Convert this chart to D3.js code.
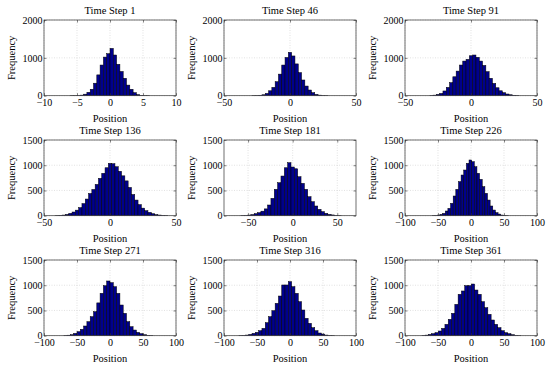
<!DOCTYPE html>
<html>
<head>
<meta charset="utf-8">
<script src="https://cdn.jsdelivr.net/npm/d3@7"></script>
<style>
    body { margin: 0; background: #fff; }
    svg  { display: block; font-family: "Liberation Serif", "Times New Roman", serif; }
</style>
</head>
<body>
<svg id="chart" width="550" height="368"></svg>
<script>
/* ── Data ─────────────────────────────────────────── */
const titles = ["Time Step 1", "Time Step 46", "Time Step 91",
                "Time Step 136", "Time Step 181", "Time Step 226",
                "Time Step 271", "Time Step 316", "Time Step 361"];

const xDomains = [[-10, 10], [-50, 50], [-50, 50],
                  [-50, 50], [-77, 71], [-100, 100],
                  [-100, 100], [-100, 100], [-100, 100]];

const xTicks = [[-10, -5, 0, 5, 10], [-50, 0, 50], [-50, 0, 50],
                [-50, 0, 50], [-50, 0, 50], [-100, -50, 0, 50, 100],
                [-100, -50, 0, 50, 100], [-100, -50, 0, 50, 100], [-100, -50, 0, 50, 100]];

const yMax   = [2000, 2000, 2000, 1500, 1500, 1500, 1500, 1500, 1500];
const yTicks = [[0, 1000, 2000], [0, 1000, 2000], [0, 1000, 2000],
                [0, 500, 1000, 1500], [0, 500, 1000, 1500], [0, 500, 1000, 1500],
                [0, 500, 1000, 1500], [0, 500, 1000, 1500], [0, 500, 1000, 1500]];

// left edge of the first bin and bin width, in position units
const binStarts = [-6, -28.75, -31.25, -41.25, -58.125, -59, -70, -77.5, -74.5];
const binWidths = [0.5, 2.5, 2.5, 2.5, 3.75, 4, 5, 5, 5];

const counts1   = [1, 2, 5, 15, 40, 90, 170, 330, 550, 810, 1020, 1110, 1250, 1075, 830, 640, 460, 280, 170, 80, 30, 10, 3, 1];
const counts46  = [2, 4, 12, 25, 60, 130, 220, 370, 570, 810, 1010, 1145, 1050, 840, 610, 415, 255, 150, 80, 35, 15, 5, 2];
const counts91  = [5, 15, 35, 60, 125, 220, 345, 500, 650, 810, 915, 960, 1055, 1075, 1015, 915, 800, 635, 460, 325, 210, 130, 80, 45, 25, 12, 5];
const counts136 = [3, 8, 13, 26, 46, 73, 110, 160, 240, 330, 440, 520, 620, 740, 840, 950, 1037, 1030, 970, 880, 790, 690, 560, 420, 310, 220, 150, 100, 66, 40, 22, 13, 6, 3];
const counts181 = [3, 6, 12, 22, 40, 60, 90, 135, 212, 344, 522, 653, 786, 950, 1050, 965, 930, 772, 641, 522, 376, 277, 192, 126, 80, 47, 27, 15, 7, 3];
const counts226 = [3, 6, 13, 26, 46, 93, 145, 245, 390, 522, 674, 806, 905, 1037, 1104, 1070, 970, 840, 720, 575, 443, 310, 192, 112, 60, 33, 13, 5, 2];
const counts271 = [4, 10, 20, 46, 80, 126, 192, 278, 377, 476, 650, 840, 990, 1084, 1051, 971, 839, 608, 443, 278, 178, 112, 66, 40, 20, 8, 3];
const counts316 = [3, 6, 13, 26, 46, 66, 99, 145, 258, 377, 496, 641, 786, 1005, 1005, 1071, 972, 839, 674, 509, 344, 245, 159, 99, 53, 33, 13, 5, 2];
const counts361 = [5, 12, 26, 40, 60, 93, 145, 225, 324, 443, 621, 820, 886, 991, 991, 1024, 905, 820, 674, 555, 423, 311, 225, 159, 99, 60, 40, 20, 8, 3];

const allCounts = [counts1, counts46, counts91, counts136, counts181,
                   counts226, counts271, counts316, counts361];

/* ── Layout ───────────────────────────────────────── */
const colLeft = [44, 224, 405];
const rowTop  = [20, 140, 260];
const W = 132, H = 75.7;

const svg = d3.select("#chart");
const fmt = d => d < 0 ? "\u2212" + Math.abs(d) : String(d);

titles.forEach((title, i) => {
    const left = colLeft[i % 3], top = rowTop[Math.floor(i / 3)];
    const g = svg.append("g").attr("transform", `translate(${left},${top})`);

    const x = d3.scaleLinear().domain(xDomains[i]).range([0, W]);
    const y = d3.scaleLinear().domain([0, yMax[i]]).range([H, 0]);

    g.append("clipPath").attr("id", `clip${i}`)
        .append("rect").attr("width", W).attr("height", H);

    // grid
    const grid = g.append("g")
        .attr("stroke", "#cfcfcf").attr("stroke-width", 0.6)
        .attr("stroke-dasharray", "1,1.5");
    grid.selectAll(".gx").data(xTicks[i]).join("line")
        .attr("x1", d => x(d)).attr("x2", d => x(d))
        .attr("y1", 0).attr("y2", H);
    grid.selectAll(".gy").data(yTicks[i]).join("line")
        .attr("x1", 0).attr("x2", W)
        .attr("y1", d => y(d)).attr("y2", d => y(d));

    // bars
    const bins = allCounts[i].map((c, k) => ({
        x0: binStarts[i] + k * binWidths[i],
        x1: binStarts[i] + (k + 1) * binWidths[i],
        c
    }));
    g.append("g").attr("clip-path", `url(#clip${i})`)
        .selectAll("rect").data(bins).join("rect")
        .attr("x", d => x(d.x0))
        .attr("width", d => x(d.x1) - x(d.x0))
        .attr("y", d => y(d.c))
        .attr("height", d => H - y(d.c))
        .attr("fill", "#00008c")
        .attr("stroke", "#000")
        .attr("stroke-width", 0.5);

    // axes
    const styleAxis = sel => {
        sel.select(".domain").remove();
        sel.selectAll("line").attr("stroke", "#333").attr("stroke-width", 0.6);
        sel.selectAll("text").attr("font-size", 10).attr("fill", "#000")
            .attr("font-family", "Liberation Serif, Times New Roman, serif");
    };
    g.append("g").attr("transform", `translate(0,${H})`)
        .call(d3.axisBottom(x).tickValues(xTicks[i]).tickSize(-2.5).tickPadding(3.5).tickFormat(fmt))
        .call(styleAxis);
    g.append("g")
        .call(d3.axisLeft(y).tickValues(yTicks[i]).tickSize(-2.5).tickPadding(1.5).tickFormat(fmt))
        .call(styleAxis);
    g.append("g")
        .call(d3.axisTop(x).tickValues(xTicks[i]).tickSize(-2.5).tickFormat(""))
        .call(styleAxis);
    g.append("g").attr("transform", `translate(${W},0)`)
        .call(d3.axisRight(y).tickValues(yTicks[i]).tickSize(-2.5).tickFormat(""))
        .call(styleAxis);

    // box
    g.append("rect").attr("width", W).attr("height", H)
        .attr("fill", "none").attr("stroke", "#333").attr("stroke-width", 0.7);

    // labels
    g.append("text").attr("x", W / 2).attr("y", -10).attr("dy", "0.35em")
        .attr("text-anchor", "middle").attr("font-size", 10.5).text(title);
    g.append("text").attr("x", W / 2).attr("y", H + 22.5).attr("dy", "0.35em")
        .attr("text-anchor", "middle").attr("font-size", 10.5).text("Position");
    g.append("text")
        .attr("transform", `translate(-33,${H / 2}) rotate(-90)`)
        .attr("dy", "0.35em").attr("text-anchor", "middle")
        .attr("font-size", 10.5).text("Frequency");
});
</script>
</body>
</html>
